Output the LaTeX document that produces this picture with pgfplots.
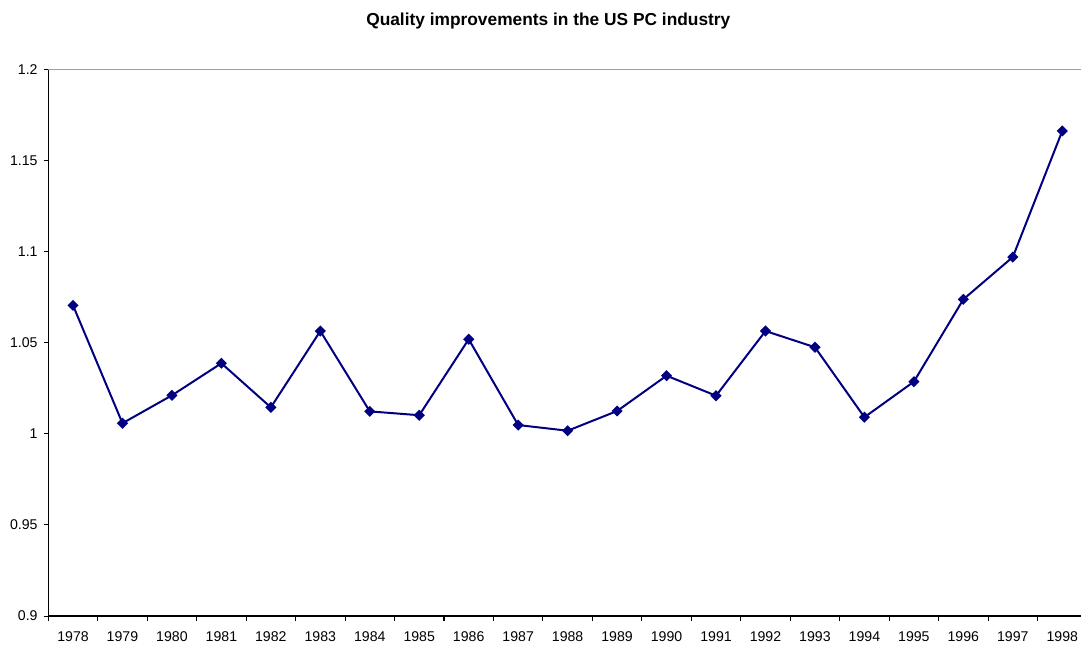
\documentclass[border=0pt]{standalone}
\usepackage{pgfplots}
\pgfplotsset{compat=1.18}
\usepackage{fontspec}
\setmainfont{Liberation Sans}
\definecolor{navyline}{RGB}{0,0,128}
\pgfplotstableread{
x val
0 1.0705
1 1.0058
2 1.0211
3 1.0387
4 1.0145
5 1.0564
6 1.0123
7 1.0102
8 1.0519
9 1.0048
10 1.0017
11 1.0125
12 1.0319
13 1.0209
14 1.0564
15 1.0475
16 1.0091
17 1.0286
18 1.0738
19 1.0970
20 1.1662
}\qualdata
\begin{document}
\begin{tikzpicture}
\useasboundingbox (-36.2pt,-21pt) rectangle (774.5pt,462pt);
\clip (-36.2pt,-21pt) rectangle (774.5pt,462pt);
\begin{axis}[
  scale only axis,
  width=779pt, height=410pt,
  xmin=-0.5, xmax=20.5,
  ymin=0.9, ymax=1.2,
  axis x line*=bottom,
  axis y line*=left,
  axis line style={black, line width=1pt, -},
  xtick={-0.5,0.5,...,20.5},
  xticklabels={1978,1979,1980,1981,1982,1983,1984,1985,1986,1987,1988,1989,1990,1991,1992,1993,1994,1995,1996,1997,1998,},
  xticklabel style={xshift=18.55pt, yshift=-4.5pt},
  ytick={0.9,0.95,1,1.05,1.1,1.15,1.2},
  yticklabels={0.9,0.95,1,1.05,1.1,1.15,1.2},
  tick align=outside,
  major tick length=3.5pt,
  tick style={black, line width=0.8pt},
  extra y ticks={1.2},
  extra y tick labels={},
  extra y tick style={grid=major, major grid style={gray!75, line width=1pt}},
  ticklabel style={font=\fontsize{10.6}{12}\selectfont},
  yticklabel style={xshift=-1pt},
  title={\textbf{Quality improvements in the US PC industry}},
  title style={at={(rel axis cs:0.4814,1)}, anchor=base, yshift=27pt, font=\fontsize{13}{15}\selectfont},
  clip=false,
]
\addplot[color=navyline, line width=1.5pt, mark=square*, mark size=2.2pt, mark options={solid, rotate=45, fill=navyline}] table[x=x, y=val] {\qualdata};
\end{axis}
\end{tikzpicture}
\end{document}
